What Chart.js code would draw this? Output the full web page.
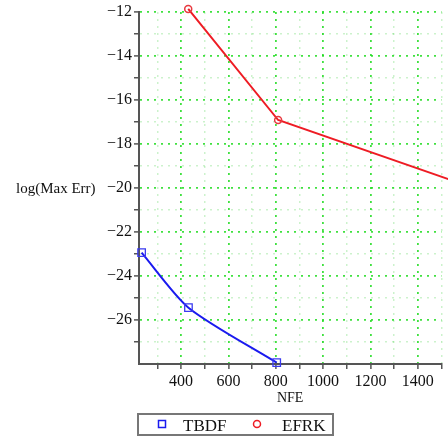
<!DOCTYPE html>
<html>
<head>
<meta charset="utf-8">
<script src="https://cdn.jsdelivr.net/npm/chart.js@4"></script>
<style>
  html, body { margin: 0; padding: 0; background: #fff; }
  #chart { display: block; }
</style>
</head>
<body>
<canvas id="chart" width="448" height="439"></canvas>
<script>
// values
const nfeTBDF = [233, 431, 804];
const errTBDF = [-22.94, -25.44, -27.94];
const nfeEFRK = [430, 810, 1610];
const errEFRK = [-11.86, -16.91, -19.9];

const xTickLabels = [400, 600, 800, 1000, 1200, 1400];
const yTickLabels = [-12, -14, -16, -18, -20, -22, -24, -26];

const serif = "'Liberation Serif', 'Times New Roman', serif";

const toPoints = (xs, ys) => xs.map((x, i) => ({ x: x, y: ys[i] }));
const minus = (v) => (v < 0 ? "\u2212" + Math.abs(v) : String(v));

// horizontal y title and boxed legend, Maple style
const extras = {
  id: "extras",
  afterDraw(chart) {
    const ctx = chart.ctx;
    const y = chart.scales.y;
    ctx.save();
    ctx.fillStyle = "#111";
    ctx.font = "15px " + serif;
    ctx.textBaseline = "middle";
    ctx.textAlign = "left";
    ctx.fillText("log(Max Err)", 16, y.getPixelForValue(-20) + 1);

    // legend box
    ctx.strokeStyle = "#777";
    ctx.lineWidth = 2;
    ctx.strokeRect(138, 414, 195, 21);
    ctx.font = "17px " + serif;
    ctx.textBaseline = "alphabetic";
    ctx.fillStyle = "#111";
    const ds = chart.data.datasets;
    // TBDF
    ctx.strokeStyle = ds[0].borderColor;
    ctx.lineWidth = 1.5;
    ctx.strokeRect(158.5, 420.5, 7, 7);
    ctx.fillText(ds[0].label, 183, 430.5);
    // EFRK
    ctx.strokeStyle = ds[1].borderColor;
    ctx.beginPath();
    ctx.arc(257, 424, 3.5, 0, Math.PI * 2);
    ctx.stroke();
    ctx.fillText(ds[1].label, 282, 430.5);
    ctx.restore();
  },
};

const gridColor = (labels) => (c) =>
  c.tick && labels.includes(c.tick.value)
    ? "rgba(30,220,30,0.85)"
    : "rgba(0,190,0,0.2)";
const gridWidth = (labels) => (c) =>
  c.tick && labels.includes(c.tick.value) ? 1.8 : 1.5;

new Chart(document.getElementById("chart"), {
  type: "line",
  data: {
    datasets: [
      {
        label: "TBDF",
        data: toPoints(nfeTBDF, errTBDF),
        borderColor: "#1a1aef",
        borderWidth: 2,
        tension: 0.25,
        pointStyle: "rect",
        pointRadius: 5.3,
        pointBorderWidth: 1.3,
        pointBackgroundColor: "rgba(0,0,0,0)",
        pointBorderColor: "#3a3af0",
        clip: false,
      },
      {
        label: "EFRK",
        data: toPoints(nfeEFRK, errEFRK),
        borderColor: "#ee1c24",
        borderWidth: 2,
        tension: 0,
        pointStyle: "circle",
        pointRadius: 3.5,
        pointBorderWidth: 1.5,
        pointBackgroundColor: "rgba(0,0,0,0)",
        pointBorderColor: "#e83a40",
        clip: false,
      },
    ],
  },
  options: {
    responsive: false,
    animation: false,
    layout: { padding: { left: 0, right: 0, top: 12, bottom: 30 } },
    plugins: {
      legend: { display: false },
      tooltip: { enabled: false },
    },
    scales: {
      x: {
        type: "linear",
        min: 222,
        max: 1500,
        afterBuildTicks: (scale) => {
          const ticks = [];
          for (let v = 300; v <= 1500; v += 100) ticks.push({ value: v });
          scale.ticks = ticks;
        },
        afterFit: (scale) => {
          scale.height = 45;
        },
        ticks: {
          autoSkip: false,
          maxRotation: 0,
          padding: 3,
          color: "#111",
          font: { family: serif, size: 16 },
          callback: (v) => (xTickLabels.includes(v) ? String(v) : ""),
        },
        title: {
          display: true,
          text: "NFE",
          color: "#111",
          font: { family: serif, size: 14 },
          padding: { top: 0, bottom: 2 },
        },
        grid: {
          color: gridColor(xTickLabels),
          lineWidth: gridWidth(xTickLabels),
          tickLength: 5,
          tickColor: "#555",
          tickWidth: 1.5,
        },
        border: { color: "#555", width: 2, dash: [2, 5] },
      },
      y: {
        type: "linear",
        min: -28,
        max: -12,
        afterBuildTicks: (scale) => {
          const ticks = [];
          for (let v = -27; v <= -12; v += 1) ticks.push({ value: v });
          scale.ticks = ticks;
        },
        afterFit: (scale) => {
          scale.width = 139;
        },
        ticks: {
          autoSkip: false,
          padding: 2,
          color: "#111",
          font: { family: serif, size: 16 },
          callback: (v) => (yTickLabels.includes(v) ? minus(v) : ""),
        },
        grid: {
          color: gridColor(yTickLabels),
          lineWidth: gridWidth(yTickLabels),
          tickLength: 5,
          tickColor: "#555",
          tickWidth: 1.5,
        },
        border: { color: "#555", width: 2, dash: [2, 5] },
      },
    },
  },
  plugins: [extras],
});
</script>
</body>
</html>
